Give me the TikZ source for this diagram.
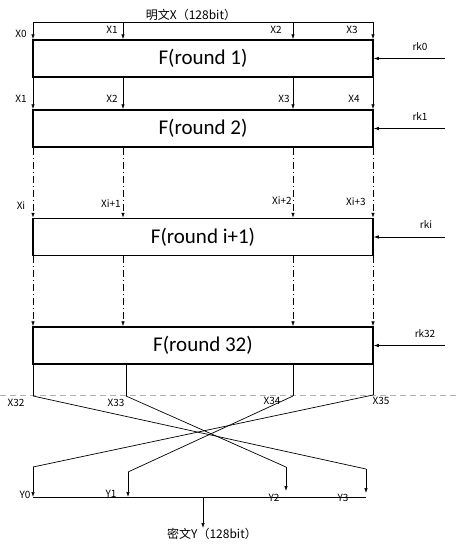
\documentclass[tikz,border=0pt]{standalone}
\usepackage{fontspec}
\setmainfont{Carlito}
\newfontfamily\cjk{Noto Sans CJK SC}
\usetikzlibrary{arrows.meta}

\newcommand*{\ytop}{22}
\newcommand*{\yout}{396}
\newcommand*{\ybar}{497}
\newcommand*{\xkey}{445}

\tikzset{
	roundbox/.style={draw, line width=1.5pt, minimum width=340pt, minimum height=37pt, inner sep=0pt, font=\fontsize{21}{24}\selectfont},
	lbl/.style={font=\cjk\fontsize{10}{12}\selectfont, inner sep=0pt},
	title/.style={font=\cjk\fontsize{12}{14}\selectfont, inner sep=0pt},
	arr/.style={-{Latex[length=5pt,width=3.5pt]}},
	dashdot/.style={dash pattern=on 7pt off 3pt on 1pt off 3pt},
}

\begin{document}
\begin{tikzpicture}[x=1pt,y=-1pt,line width=0.7pt]

	\useasboundingbox (0,0) rectangle (458,550);

	% rounds
	\node[roundbox] (r1) at (203,58.5) {F(round 1)};
	\node[roundbox] (r2) at (203,128.5) {F(round 2)};
	\node[roundbox] (r3) at (203,237) {F(round i+1)};
	\node[roundbox] (r4) at (203,345.5) {F(round 32)};

	% plaintext
	\node[title] (px) at (191,15) {明文X（128bit）};
	\foreach \i/\c in {0/33,1/123,2/293,3/373}
		\coordinate (in\i) at (\c,\ytop);
	\draw (in0) -- (in3);
	\foreach \i in {0,...,3} {
		\draw[arr] (in\i) -- (in\i |- r1.north);
		\draw[arr] (in\i |- r1.south) -- (in\i |- r2.north);
		\draw[arr,dashdot] (in\i |- r2.south) -- (in\i |- r3.north);
		\draw[arr,dashdot] (in\i |- r3.south) -- (in\i |- r4.north);
	}

	\node[lbl] (x0) at (21,34) {X0};
	\node[lbl] (x1) at (112,30) {X1};
	\node[lbl] (x2) at (276,30) {X2};
	\node[lbl] (x3) at (352,30) {X3};

	\node[lbl] (x1b) at (21,99) {X1};
	\node[lbl] (x2b) at (112,99) {X2};
	\node[lbl] (x3b) at (284,99) {X3};
	\node[lbl] (x4b) at (354,99) {X4};

	\node[lbl] (xi0) at (21,206) {Xi};
	\node[lbl] (xi1) at (111,204) {Xi+1};
	\node[lbl] (xi2) at (282,201) {Xi+2};
	\node[lbl] (xi3) at (356,202) {Xi+3};

	% round keys
	\foreach \r in {1,...,4}
		\coordinate (ks\r) at (\xkey,0 |- r\r.east);
	\foreach \r in {1,...,4}
		\draw[arr] (ks\r) -- (r\r.east);
	\node[lbl] (k1) at (420,47) {rk0};
	\node[lbl] (k2) at (420,117) {rk1};
	\node[lbl] (k3) at (426,225) {rki};
	\node[lbl] (k4) at (425,334) {rk32};

	% reverse
	\draw[gray!60,dash pattern=on 6pt off 4pt] (0,395) -- (458,395);
	\coordinate (o0) at (33,\yout);
	\coordinate (o1) at (126,\yout);
	\coordinate (o2) at (293,\yout);
	\coordinate (o3) at (373,395);
	\foreach \i in {0,...,3}
		\draw (o\i |- r4.south) -- (o\i);

	\node[lbl] (x32) at (16,403) {X32};
	\node[lbl] (x33) at (116,403) {X33};
	\node[lbl] (x34) at (272,401) {X34};
	\node[lbl] (x35) at (381,401) {X35};

	\coordinate (y0) at (33,467);
	\coordinate (y1) at (128,472);
	\coordinate (y2) at (286,467);
	\coordinate (y3) at (366,469);
	\draw (o0) -- (y3);
	\draw (o1) -- (y2);
	\draw (o2) -- (y1);
	\draw (o3) -- (y0);

	\coordinate (yl) at (33,\ybar);
	\coordinate (yr) at (366,\ybar);
	\coordinate (yc) at (203,\ybar);
	\draw[arr] (y0) -- (yl);
	\draw[arr] (y1) -- (y1 |- yl);
	\draw[arr] (y2) -- (286,491);
	\draw[arr] (y3) -- (366,493);
	\draw (yl) -- (yr);

	\node[lbl] (y0l) at (25,495) {Y0};
	\node[lbl] (y1l) at (111,494) {Y1};
	\node[lbl] (y2l) at (274,498) {Y2};
	\node[lbl] (y3l) at (343,498) {Y3};

	% ciphertext
	\node[title] (cy) at (212,534) {密文Y（128bit）};
	\draw[arr] (yc) -- (203,528);

\end{tikzpicture}
\end{document}
